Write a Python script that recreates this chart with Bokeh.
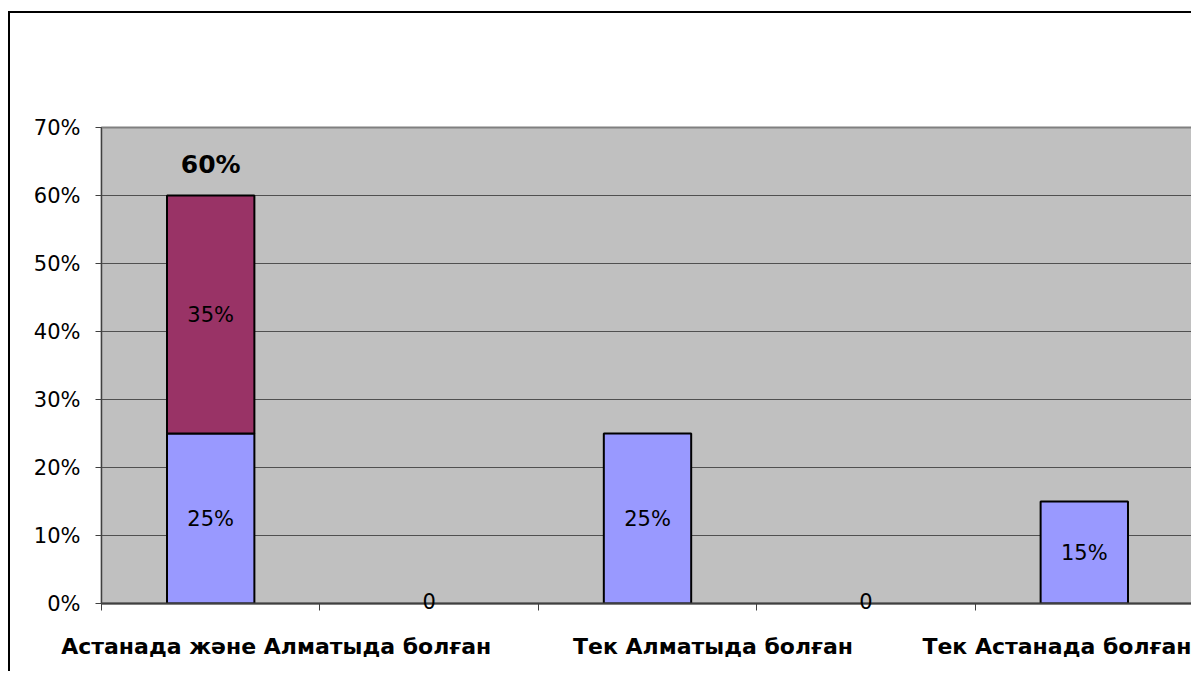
from bokeh.plotting import figure
from bokeh.models import (ColumnDataSource, FixedTicker, NumeralTickFormatter, Range1d,
                          LabelSet, LinearAxis)
from bokeh.core.properties import value
from bokeh.embed import file_html
from bokeh.resources import INLINE

categories = ["Астанада және Алматыда болған", "", "Тек Алматыда болған", "", "Тек Астанада болған"]
series_blue = [0.25, 0.0, 0.25, 0.0, 0.15]
series_purple = [0.35, 0.0, 0.0, 0.0, 0.0]
blue_labels = ["25%", "0", "25%", "0", "15%"]
purple_labels = ["35%", "", "", "", ""]
total_labels = ["60%", "", "", "", ""]
y_ticks = [0.0, 0.1, 0.2, 0.3, 0.4, 0.5, 0.6, 0.7]

# layout: horizontal shift of each category label (in category widths), as in the original
label_shift = [0.3, 0.0, 0.3, 0.0, 0.035]

FONT = "DejaVu Sans"
n = len(categories)
xc = [i + 0.5 for i in range(n)]

blue_src = ColumnDataSource(dict(
    x=[xc[i] for i in range(n) if series_blue[i] > 0],
    top=[series_blue[i] for i in range(n) if series_blue[i] > 0],
))
purple_src = ColumnDataSource(dict(
    x=[xc[i] for i in range(n) if series_purple[i] > 0],
    bottom=[series_blue[i] for i in range(n) if series_purple[i] > 0],
    top=[series_blue[i] + series_purple[i] for i in range(n) if series_purple[i] > 0],
))
blue_lab_src = ColumnDataSource(dict(
    x=[xc[i] for i in range(n) if series_blue[i] > 0],
    y=[series_blue[i] / 2 for i in range(n) if series_blue[i] > 0],
    text=[blue_labels[i] for i in range(n) if series_blue[i] > 0]))
purple_lab_src = ColumnDataSource(dict(
    x=[xc[i] for i in range(n) if purple_labels[i]],
    y=[series_blue[i] + series_purple[i] / 2 for i in range(n) if purple_labels[i]],
    text=[purple_labels[i] for i in range(n) if purple_labels[i]]))
total_src = ColumnDataSource(dict(
    x=[xc[i] for i in range(n) if total_labels[i]],
    y=[series_blue[i] + series_purple[i] for i in range(n) if total_labels[i]],
    text=[total_labels[i] for i in range(n) if total_labels[i]]))

p = figure(width=1183, height=660, output_backend="svg", toolbar_location=None,
           x_range=Range1d(0, n), y_range=Range1d(0, 0.7), x_axis_type=None,
           min_border_left=91, min_border_right=0, min_border_top=114, min_border_bottom=70,
           styles={"border-left": "2px solid black", "border-top": "2px solid black",
                   "margin-top": "11px", "margin-left": "8px"})
p.background_fill_color = "#C0C0C0"
p.border_fill_color = "white"
p.outline_line_color = "#808080"
p.outline_line_width = 2

p.xgrid.visible = False
p.ygrid.ticker = FixedTicker(ticks=y_ticks)
p.ygrid.grid_line_color = "#505050"
p.ygrid.grid_line_width = 1

p.yaxis.ticker = FixedTicker(ticks=y_ticks)
p.yaxis.formatter = NumeralTickFormatter(format="0%")
p.yaxis.axis_line_color = "#404040"
p.yaxis.axis_line_width = 1
p.yaxis.major_tick_line_color = "#404040"
p.yaxis.major_tick_out = 6
p.yaxis.major_tick_in = 0
p.yaxis.minor_tick_line_color = None
p.yaxis.major_label_text_font = FONT
p.yaxis.major_label_text_font_size = "21px"
p.yaxis.major_label_text_color = "black"
p.yaxis.major_label_standoff = 15

# axis 1: axis line, category boundary ticks, and the "0" data labels of empty categories
zero_idx = [i for i in range(n) if series_blue[i] == 0 and blue_labels[i]]
ax0 = LinearAxis(
    ticker=FixedTicker(ticks=[xc[i] for i in zero_idx], minor_ticks=list(range(n + 1))),
    major_label_overrides={xc[i]: blue_labels[i] for i in zero_idx},
    major_tick_out=0, major_tick_in=0, minor_tick_out=7, minor_tick_in=0,
    minor_tick_line_color="#404040", axis_line_color="#404040", axis_line_width=2,
    major_label_text_font=FONT, major_label_text_font_size="21px",
    major_label_text_color="black", major_label_standoff=-18)
p.add_layout(ax0, "below")

# axis 2: category names
cat_idx = [i for i in range(n) if categories[i]]
cat_pos = [round(xc[i] + label_shift[i], 3) for i in cat_idx]
ax1 = LinearAxis(
    ticker=FixedTicker(ticks=cat_pos, minor_ticks=[]),
    major_label_overrides={cat_pos[k]: categories[i] for k, i in enumerate(cat_idx)},
    major_tick_out=0, major_tick_in=0, minor_tick_out=0, minor_tick_in=0,
    axis_line_color=None, major_tick_line_color=None, minor_tick_line_color=None,
    major_label_text_font=FONT, major_label_text_font_size="22px",
    major_label_text_font_style="bold", major_label_text_color="black",
    major_label_standoff=22)
p.add_layout(ax1, "below")

p.vbar(x="x", top="top", bottom=0, width=0.4, source=blue_src,
       fill_color="#9999FF", line_color="black", line_width=2)
p.vbar(x="x", top="top", bottom="bottom", width=0.4, source=purple_src,
       fill_color="#993366", line_color="black", line_width=2)

p.add_layout(LabelSet(x="x", y="y", text="text", source=blue_lab_src, text_font=value(FONT),
                      text_font_size="21px", text_align="center", text_baseline="middle",
                      text_color="black", level="overlay"))
p.add_layout(LabelSet(x="x", y="y", text="text", source=purple_lab_src, text_font=value(FONT),
                      text_font_size="21px", text_align="center", text_baseline="middle",
                      text_color="black", level="overlay"))
p.add_layout(LabelSet(x="x", y="y", text="text", source=total_src, text_font=value(FONT),
                      text_font_size="25px", text_font_style="bold", text_align="center",
                      text_baseline="middle", y_offset=31, text_color="black", level="overlay"))

open("out.html", "w").write(file_html(p, INLINE))
